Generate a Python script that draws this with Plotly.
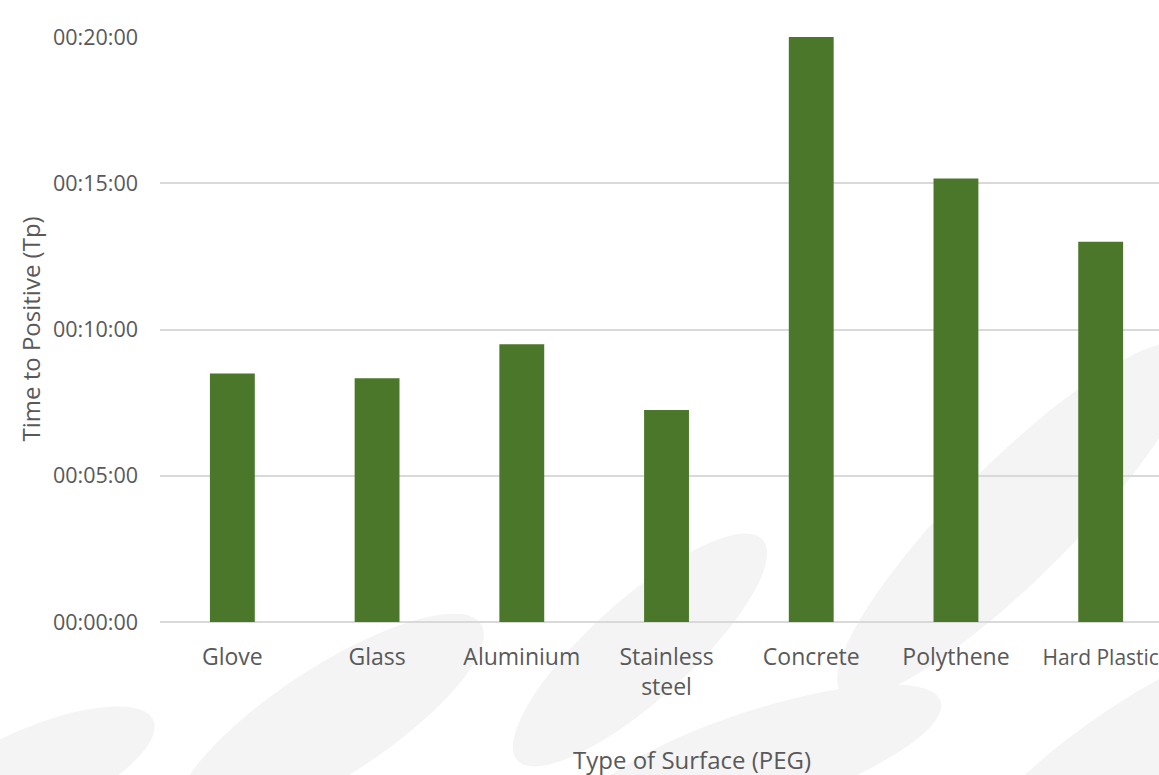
import numpy as np
import plotly.graph_objects as go

# Surfaces tested and time to positive (seconds)
surfaces = ["Glove", "Glass", "Aluminium", "Stainless<br>steel", "Concrete", "Polythene", "Hard Plastic"]
tp_seconds = [510, 500, 570, 435, 1200, 910, 780]

# Y-axis ticks (seconds) and their hh:mm:ss labels
tick_seconds = [0, 300, 600, 900, 1200]
tick_labels = ["00:00:00", "00:05:00", "00:10:00", "00:15:00", "00:20:00"]

W, H = 1159, 775
L, R, T, B = 160, 0, 37, 153
PW, PH = W - L - R, H - T - B

TEXT = "#595959"
FONT = "Open Sans"

fig = go.Figure(
    go.Bar(
        x=list(range(len(surfaces))),
        y=tp_seconds,
        width=0.31,
        marker=dict(color="#4a7729", line=dict(width=0)),
        hovertemplate="%{customdata}<extra></extra>",
        customdata=[f"{s // 3600:02d}:{(s % 3600) // 60:02d}:{s % 60:02d}" for s in tp_seconds],
    )
)


def ellipse_path(cx, cy, a, b, ang):
    """Rotated ellipse in pixel space, returned as a paper-coordinate SVG path."""
    t = np.linspace(0, 2 * np.pi, 72)
    th = np.deg2rad(ang)
    px = cx + a * np.cos(t) * np.cos(th) - b * np.sin(t) * np.sin(th)
    py = cy - (a * np.cos(t) * np.sin(th) + b * np.sin(t) * np.cos(th))
    xs = (px - L) / PW
    ys = (H - B - py) / PH
    pts = [f"{x:.4f},{y:.4f}" for x, y in zip(xs, ys)]
    return "M" + " L".join(pts) + " Z"


# faint background swooshes (centre x, centre y, half-length, half-width, tilt)
swooshes = [
    (30, 775, 135, 45, 24),
    (330, 722, 180, 55, 33),
    (640, 650, 165, 50, 42),
    (760, 760, 190, 50, 18),
    (1015, 520, 245, 58, 45),
    (1125, 765, 200, 55, 35),
]
shapes = [
    dict(type="path", xref="paper", yref="paper", path=ellipse_path(*e),
         fillcolor="#f4f4f4", line=dict(width=0), layer="below")
    for e in swooshes
]

# the last category label sits at the right edge; set it a touch smaller so it fits
tick_text = surfaces[:-1] + [f"<span style='font-size:21px'>{surfaces[-1]}</span>"]

fig.update_layout(
    width=W,
    height=H,
    margin=dict(l=L, r=R, t=T, b=B, autoexpand=False),
    paper_bgcolor="white",
    plot_bgcolor="rgba(0,0,0,0)",
    showlegend=False,
    font=dict(family=FONT, size=22, color=TEXT),
    shapes=shapes,
    xaxis=dict(
        tickmode="array",
        tickvals=list(range(len(surfaces))),
        ticktext=tick_text,
        range=[-0.5, 6.403],
        showgrid=False,
        zeroline=False,
        showline=False,
        ticks="",
        ticklabelstandoff=19,
        ticklabeloverflow="allow",
        tickfont=dict(family=FONT, size=23, color=TEXT),
        automargin=False,
    ),
    yaxis=dict(
        tickmode="array",
        tickvals=tick_seconds,
        ticktext=tick_labels,
        range=[0, 1200],
        showgrid=True,
        gridcolor="#d9d9d9",
        gridwidth=1.5,
        zeroline=True,
        zerolinecolor="#d9d9d9",
        zerolinewidth=1.5,
        showline=False,
        ticks="",
        ticklabelstandoff=21,
        tickfont=dict(family=FONT, size=21.5, color=TEXT),
        automargin=False,
    ),
    annotations=[
        dict(text="Time to Positive (Tp)", xref="paper", yref="paper",
             x=(30 - L) / PW, y=0.5, xanchor="center", yanchor="middle",
             textangle=-90, showarrow=False,
             font=dict(family=FONT, size=24, color=TEXT)),
        dict(text="Type of Surface (PEG)", xref="paper", yref="paper",
             x=(692 - L) / PW, y=(H - B - 759) / PH, xanchor="center", yanchor="middle",
             showarrow=False,
             font=dict(family=FONT, size=24, color=TEXT)),
    ],
)

fig.write_html("out.html")
